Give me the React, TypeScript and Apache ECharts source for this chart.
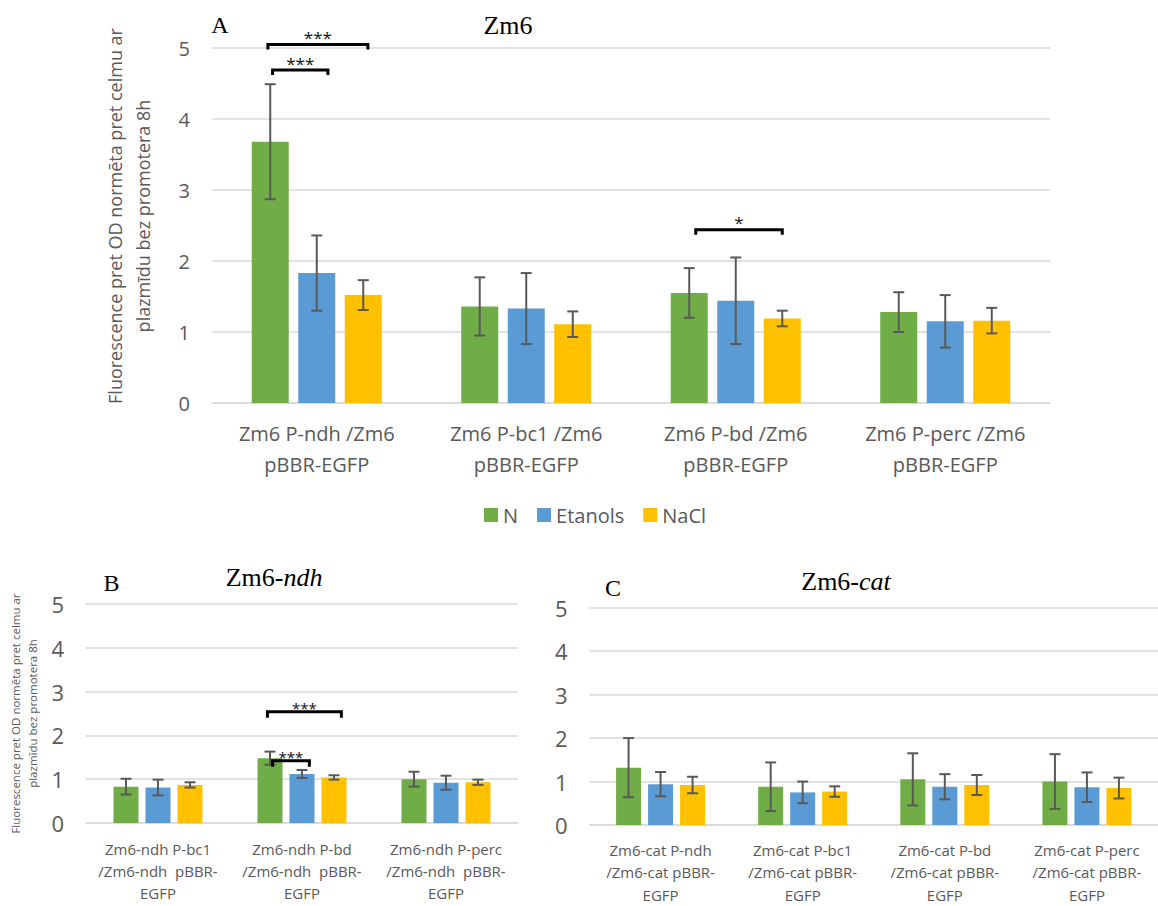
import React, { useEffect, useRef } from 'react';
import * as echarts from 'echarts';

const seriesNames = ['N', 'Etanols', 'NaCl'];
const seriesColors = ['#70ad47', '#5b9bd5', '#ffc000'];

const yAxisTitle = 'Fluorescence pret OD normēta pret celmu ar\nplazmīdu bez promotera 8h';

// Panel A (Zm6)
const catsA = ['Zm6 P-ndh /Zm6\npBBR-EGFP', 'Zm6 P-bc1 /Zm6\npBBR-EGFP', 'Zm6 P-bd /Zm6\npBBR-EGFP', 'Zm6 P-perc /Zm6\npBBR-EGFP'];
const aN = [3.68, 1.36, 1.55, 1.28];
const aNErr = [0.81, 0.41, 0.35, 0.28];
const aEt = [1.83, 1.33, 1.44, 1.15];
const aEtErr = [0.53, 0.5, 0.61, 0.37];
const aNa = [1.52, 1.11, 1.19, 1.16];
const aNaErr = [0.21, 0.18, 0.11, 0.18];

// Panel B (Zm6-ndh)
const catsB = ['Zm6-ndh P-bc1\n/Zm6-ndh  pBBR-\nEGFP', 'Zm6-ndh P-bd\n/Zm6-ndh  pBBR-\nEGFP', 'Zm6-ndh P-perc\n/Zm6-ndh  pBBR-\nEGFP'];
const bN = [0.83, 1.48, 1.0];
const bNErr = [0.18, 0.15, 0.17];
const bEt = [0.81, 1.12, 0.92];
const bEtErr = [0.18, 0.09, 0.16];
const bNa = [0.87, 1.04, 0.93];
const bNaErr = [0.06, 0.05, 0.06];

// Panel C (Zm6-cat)
const catsC = ['Zm6-cat P-ndh\n/Zm6-cat pBBR-\nEGFP', 'Zm6-cat P-bc1\n/Zm6-cat pBBR-\nEGFP', 'Zm6-cat P-bd\n/Zm6-cat pBBR-\nEGFP', 'Zm6-cat P-perc\n/Zm6-cat pBBR-\nEGFP'];
const cN = [1.32, 0.88, 1.05, 1.0];
const cNErr = [0.68, 0.56, 0.6, 0.63];
const cEt = [0.94, 0.75, 0.88, 0.87];
const cEtErr = [0.28, 0.25, 0.29, 0.34];
const cNa = [0.92, 0.77, 0.92, 0.85];
const cNaErr = [0.19, 0.12, 0.23, 0.24];

// significance brackets: [category index, y value, from (bar slots), to (bar slots)]
const bracketsA = [[0, 5.05, -1.05, 1.1], [0, 4.69, -0.95, 0.24], [2, 2.44, -0.86, 1.0]];
const bracketLabelsA = ['***', '***', '*'];
const bracketsB = [[1, 2.54, -1.08, 1.23], [1, 1.42, -0.92, 0.23]];
const bracketLabelsB = ['***', '***'];

const SANS = '"Open Sans", "Noto Sans", sans-serif';
const SERIF = '"Liberation Serif", "Times New Roman", serif';
const GRAY = '#595959';

function errData(vals: number[][], errs: number[][]) {
  return vals.flatMap((v, k) => v.map((val, i) => [i, val - errs[k][i], val + errs[k][i], k]));
}

function errRender(slot: number, cap: number, lw: number) {
  return (params: any, api: any) => {
    const cat = api.value(0);
    const k = api.value(3);
    const lo = api.coord([cat, api.value(1)]);
    const hi = api.coord([cat, api.value(2)]);
    const x = lo[0] + (k - 1) * slot;
    const st = { stroke: GRAY, lineWidth: lw };
    return {
      type: 'group',
      children: [
        { type: 'line', shape: { x1: x, y1: lo[1], x2: x, y2: hi[1] }, style: st },
        { type: 'line', shape: { x1: x - cap / 2, y1: lo[1], x2: x + cap / 2, y2: lo[1] }, style: st },
        { type: 'line', shape: { x1: x - cap / 2, y1: hi[1], x2: x + cap / 2, y2: hi[1] }, style: st },
      ],
    };
  };
}

function bracketRender(slot: number, leg: number, labels: string[], fontSize: number, gap: number) {
  return (params: any, api: any) => {
    const c = api.coord([api.value(0), api.value(1)]);
    const x1 = c[0] + api.value(2) * slot;
    const x2 = c[0] + api.value(3) * slot;
    const y = c[1];
    return {
      type: 'group',
      children: [
        {
          type: 'polyline',
          shape: { points: [[x1, y + leg], [x1, y], [x2, y], [x2, y + leg]] },
          style: { stroke: '#000', lineWidth: 3, fill: 'none' },
        },
        {
          type: 'text',
          x: (x1 + x2) / 2,
          y: y - gap,
          style: {
            text: labels[params.dataIndex],
            fill: '#111',
            fontSize,
            fontFamily: SANS,
            align: 'center',
            verticalAlign: 'middle',
          },
        },
      ],
    };
  };
}

function App() {
  const ref = useRef<HTMLDivElement>(null);
  useEffect(() => {
    document.body.style.margin = '0';
    if (!ref.current) return;
    const chart = echarts.init(ref.current, null, { renderer: 'svg' });

    const grids = [
      { left: 212, top: 48, width: 838, height: 355 },
      { left: 86, top: 604, width: 432, height: 219 },
      { left: 589.5, top: 607.7, width: 572, height: 220.6 },
    ];
    const cats = [catsA, catsB, catsC];
    const vals = [[aN, aEt, aNa], [bN, bEt, bNa], [cN, cEt, cNa]];
    const errs = [[aNErr, aEtErr, aNaErr], [bNErr, bEtErr, bNaErr], [cNErr, cEtErr, cNaErr]];
    const barW = [37, 25, 25];
    const gapRatio = [0.257, 0.28, 0.28];
    const xFont = [20, 15, 15];
    const xLine = [31, 22, 22.5];
    const xMargin = [14.5, 15, 13.5];
    const yFont = [20, 22, 22];

    const xAxis = grids.map((g, p) => ({
      type: 'category',
      gridIndex: p,
      data: cats[p],
      axisLine: { lineStyle: { color: '#d9d9d9', width: 1.5 } },
      axisTick: { show: false },
      axisLabel: {
        color: GRAY,
        fontFamily: SANS,
        fontSize: xFont[p],
        lineHeight: xLine[p],
        margin: xMargin[p],
        interval: 0,
      },
    }));

    const yAxis = grids.map((g, p) => ({
      type: 'value',
      gridIndex: p,
      min: 0,
      max: 5,
      interval: 1,
      axisLine: { show: false },
      axisTick: { show: false },
      splitLine: { lineStyle: { color: '#d9d9d9', width: 1.5 } },
      axisLabel: { color: GRAY, fontFamily: SANS, fontSize: yFont[p], margin: 22 },
      ...(p === 0
        ? {
            name: yAxisTitle,
            nameLocation: 'middle',
            nameRotate: 90,
            nameGap: 55,
            nameTextStyle: { color: GRAY, fontFamily: SANS, fontSize: 18, lineHeight: 28, padding: [0, 0, 0, 19] },
          }
        : p === 1
        ? {
            name: yAxisTitle,
            nameLocation: 'middle',
            nameRotate: 90,
            nameGap: 45.5,
            nameTextStyle: { color: GRAY, fontFamily: SANS, fontSize: 11.5, lineHeight: 17 },
          }
        : {}),
    }));

    const series: any[] = [];
    grids.forEach((g, p) => {
      seriesNames.forEach((name, k) => {
        series.push({
          type: 'bar',
          name,
          xAxisIndex: p,
          yAxisIndex: p,
          data: vals[p][k],
          barWidth: barW[p],
          barGap: `${gapRatio[p] * 100}%`,
          itemStyle: { color: seriesColors[k] },
        });
      });
      series.push({
        type: 'custom',
        name: 'err' + p,
        xAxisIndex: p,
        yAxisIndex: p,
        z: 5,
        renderItem: errRender(barW[p] * (1 + gapRatio[p]), 11, 2),
        encode: { x: 0, y: [1, 2] },
        data: errData(vals[p], errs[p]),
      });
    });
    series.push({
      type: 'custom',
      name: 'sigA',
      xAxisIndex: 0,
      yAxisIndex: 0,
      z: 6,
      renderItem: bracketRender(barW[0] * (1 + gapRatio[0]), 5, bracketLabelsA, 17, 7),
      encode: { x: 0, y: 1 },
      data: bracketsA,
    });
    series.push({
      type: 'custom',
      name: 'sigB',
      xAxisIndex: 1,
      yAxisIndex: 1,
      z: 6,
      renderItem: bracketRender(barW[1] * (1 + gapRatio[1]), 6, bracketLabelsB, 15, 4),
      encode: { x: 0, y: 1 },
      data: bracketsB,
    });

    const titleText = (x: number, y: number, text: string, size: number) => ({
      type: 'text',
      x,
      y,
      style: {
        text,
        fill: '#000',
        fontSize: size,
        fontFamily: SERIF,
        align: 'center',
        verticalAlign: 'middle',
        rich: { i: { fontStyle: 'italic', fontSize: size, fontFamily: SERIF, fill: '#000' } },
      },
    });

    chart.setOption({
      animation: false,
      backgroundColor: '#fff',
      grid: grids,
      xAxis,
      yAxis,
      legend: {
        data: seriesNames,
        left: 479,
        top: 500,
        icon: 'rect',
        itemWidth: 14,
        itemHeight: 14,
        itemGap: 19,
        textStyle: { color: GRAY, fontFamily: SANS, fontSize: 20 },
      },
      graphic: [
        titleText(220, 25, 'A', 24),
        titleText(508, 25.5, 'Zm6', 26),
        titleText(111.6, 583, 'B', 24),
        titleText(274, 577, 'Zm6-{i|ndh}', 26),
        titleText(613, 588, 'C', 24),
        titleText(846, 581, 'Zm6-{i|cat}', 26),
      ],
      series,
    });
    return () => chart.dispose();
  }, []);
  return <div ref={ref} style={{ width: 1158, height: 906 }} />;
}

export default App;
